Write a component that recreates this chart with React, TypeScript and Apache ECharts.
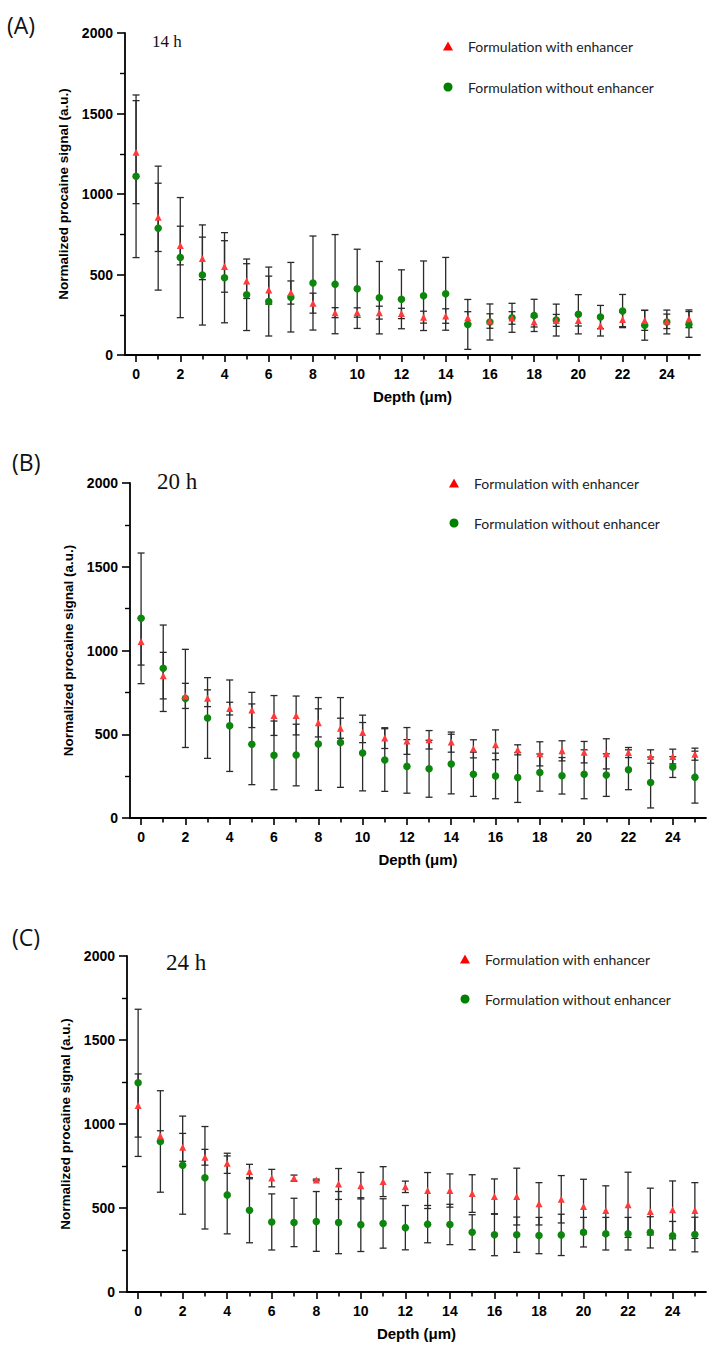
import React, { useEffect, useRef } from "react";
import * as echarts from "echarts";

// Depth positions (µm)
const DEPTH = [0, 1, 2, 3, 4, 5, 6, 7, 8, 9, 10, 11, 12, 13, 14, 15, 16, 17, 18, 19, 20, 21, 22, 23, 24, 25];
const X_TICKS_MAJOR = [0, 2, 4, 6, 8, 10, 12, 14, 16, 18, 20, 22, 24];
const X_TICKS_MINOR = [1, 3, 5, 7, 9, 11, 13, 15, 17, 19, 21, 23, 25];

// Panel A: 14 h
const A_WITH_MEAN = [1260, 855, 680, 600, 550, 459, 403, 388, 322, 263, 264, 263, 258, 235, 242, 232, 211, 230, 205, 215, 215, 180, 221, 215, 209, 225];
const A_WITH_SD = [320, 212, 120, 132, 160, 108, 87, 72, 62, 31, 29, 40, 32, 37, 45, 37, 45, 39, 31, 37, 35, 62, 45, 62, 45, 55];
const A_WITHOUT_MEAN = [1110, 788, 605, 497, 480, 374, 332, 359, 447, 440, 411, 356, 346, 368, 380, 190, 205, 231, 246, 217, 253, 236, 273, 185, 205, 190];
const A_WITHOUT_SD = [505, 385, 373, 311, 280, 222, 214, 216, 292, 308, 246, 225, 183, 216, 226, 155, 112, 90, 100, 99, 122, 72, 103, 93, 74, 80];

// Panel B: 20 h
const B_WITH_MEAN = [1053, 850, 729, 715, 653, 645, 612, 612, 568, 536, 510, 477, 460, 467, 453, 413, 437, 407, 383, 401, 393, 383, 391, 367, 367, 381];
const B_WITH_SD = [140, 139, 75, 50, 38, 105, 119, 116, 84, 60, 60, 62, 80, 55, 60, 54, 89, 30, 72, 60, 64, 90, 30, 40, 44, 36];
const B_WITHOUT_MEAN = [1192, 894, 714, 597, 551, 440, 374, 376, 442, 451, 388, 346, 308, 294, 322, 261, 251, 242, 271, 252, 261, 256, 288, 212, 304, 244];
const B_WITHOUT_SD = [390, 258, 293, 241, 273, 241, 205, 184, 277, 268, 226, 187, 160, 170, 178, 132, 136, 149, 111, 109, 146, 127, 119, 152, 62, 155];

// Panel C: 24 h
const C_WITH_MEAN = [1110, 929, 861, 802, 766, 717, 678, 678, 667, 643, 633, 657, 626, 604, 604, 586, 568, 568, 525, 552, 509, 485, 519, 479, 489, 485];
const C_WITH_SD = [188, 31, 83, 47, 60, 43, 52, 18, 5, 92, 79, 89, 34, 107, 99, 112, 105, 169, 126, 141, 162, 147, 194, 139, 172, 166];
const C_WITHOUT_MEAN = [1245, 896, 755, 680, 578, 487, 417, 414, 420, 413, 401, 408, 383, 404, 402, 356, 341, 341, 336, 340, 356, 347, 347, 355, 335, 342];
const C_WITHOUT_SD = [438, 302, 292, 305, 232, 194, 167, 144, 178, 185, 160, 147, 132, 111, 120, 104, 125, 105, 108, 123, 88, 97, 97, 93, 85, 103];

const Y_TICKS = [0, 500, 1000, 1500, 2000];

const NAME_WITH = "Formulation with enhancer";
const NAME_WITHOUT = "Formulation without enhancer";
const PANEL_LABELS = ["(A)", "(B)", "(C)"];
const TIME_LABELS = ["14 h", "20 h", "24 h"];

const RED = "#ff3a3a";
const GREEN = "#0c860c";
const AXIS_FONT = "'Liberation Sans', Arial, sans-serif";

const PANELS = [
  { withMean: A_WITH_MEAN, withSd: A_WITH_SD, withoutMean: A_WITHOUT_MEAN, withoutSd: A_WITHOUT_SD,
    grid: { left: 125, top: 33, width: 575, height: 322 }, yGap: 45,
    label: { x: 7, y: 28 }, time: { x: 152, y: 43, size: 17 }, legend: { cx: 448, top: 39, gap: 27 } },
  { withMean: B_WITH_MEAN, withSd: B_WITH_SD, withoutMean: B_WITHOUT_MEAN, withoutSd: B_WITHOUT_SD,
    grid: { left: 130, top: 483, width: 576, height: 335 }, yGap: 44,
    label: { x: 12, y: 465 }, time: { x: 157, y: 484, size: 23 }, legend: { cx: 454, top: 476, gap: 26 } },
  { withMean: C_WITH_MEAN, withSd: C_WITH_SD, withoutMean: C_WITHOUT_MEAN, withoutSd: C_WITHOUT_SD,
    grid: { left: 127, top: 956, width: 579, height: 336 }, yGap: 40,
    label: { x: 12, y: 940 }, time: { x: 166, y: 965, size: 23 }, legend: { cx: 465, top: 952, gap: 26 } },
];

function errorBarItem(params: any, api: any) {
  const x = api.value(0);
  const lo = api.coord([x, api.value(1)]);
  const hi = api.coord([x, api.value(2)]);
  const w = 3.5;
  const style = { stroke: "#2a2a2a", lineWidth: 1.3 };
  return {
    type: "group",
    children: [
      { type: "line", shape: { x1: lo[0], y1: lo[1], x2: hi[0], y2: hi[1] }, style },
      { type: "line", shape: { x1: lo[0] - w, y1: lo[1], x2: lo[0] + w, y2: lo[1] }, style },
      { type: "line", shape: { x1: hi[0] - w, y1: hi[1], x2: hi[0] + w, y2: hi[1] }, style },
    ],
  };
}

export default function App() {
  const ref = useRef<HTMLDivElement>(null);

  useEffect(() => {
    if (!ref.current) return;
    const chart = echarts.init(ref.current, null, { renderer: "svg" });

    const grids: any[] = [];
    const xAxes: any[] = [];
    const yAxes: any[] = [];
    const series: any[] = [];
    const legends: any[] = [];
    const graphics: any[] = [];

    PANELS.forEach((p, i) => {
      grids.push({ ...p.grid, containLabel: false });
      // main x axis (even ticks with labels)
      xAxes.push({
        type: "value", gridIndex: i, min: -0.5, max: 25.5,
        name: "Depth (μm)", nameLocation: "middle", nameGap: 34,
        nameTextStyle: { fontFamily: AXIS_FONT, fontWeight: "bold", fontSize: 15, color: "#000" },
        axisLine: { show: true, onZero: false, lineStyle: { color: "#000", width: 1.8 } },
        axisTick: { show: true, customValues: X_TICKS_MAJOR, length: 7, lineStyle: { color: "#000", width: 1.6 } },
        axisLabel: { show: true, customValues: X_TICKS_MAJOR, margin: 12, fontFamily: AXIS_FONT, fontWeight: "bold", fontSize: 14, color: "#000" },
        splitLine: { show: false },
      });
      // helper x axis for the shorter odd ticks
      xAxes.push({
        type: "value", gridIndex: i, min: -0.5, max: 25.5, position: "bottom",
        axisLine: { show: false, onZero: false },
        axisTick: { show: true, customValues: X_TICKS_MINOR, length: 4.5, lineStyle: { color: "#000", width: 1.6 } },
        axisLabel: { show: false },
        splitLine: { show: false },
      });
      yAxes.push({
        type: "value", gridIndex: i, min: 0, max: 2000, interval: 500,
        name: "Normalized procaine signal (a.u.)", nameLocation: "middle", nameGap: p.yGap,
        nameTextStyle: { fontFamily: AXIS_FONT, fontWeight: "bold", fontSize: 13.5, color: "#000" },
        axisLine: { show: true, onZero: false, lineStyle: { color: "#000", width: 1.8 } },
        axisTick: { show: true, length: 8, lineStyle: { color: "#000", width: 1.6 } },
        minorTick: { show: true, splitNumber: 2, length: 5, lineStyle: { color: "#000", width: 1.4 } },
        axisLabel: { margin: 12, fontFamily: AXIS_FONT, fontWeight: "bold", fontSize: 14, color: "#000",
          customValues: Y_TICKS, formatter: (v: number) => String(v) },
        splitLine: { show: false },
        minorSplitLine: { show: false },
      });

      const xi = i * 2;
      series.push({
        type: "custom", name: "sd-with-" + i, xAxisIndex: xi, yAxisIndex: i, z: 2,
        renderItem: errorBarItem, clip: false,
        data: DEPTH.map((d, k) => [d, p.withMean[k] - p.withSd[k], p.withMean[k] + p.withSd[k]]),
      });
      series.push({
        type: "custom", name: "sd-without-" + i, xAxisIndex: xi, yAxisIndex: i, z: 2,
        renderItem: errorBarItem, clip: false,
        data: DEPTH.map((d, k) => [d, p.withoutMean[k] - p.withoutSd[k], p.withoutMean[k] + p.withoutSd[k]]),
      });
      series.push({
        type: "scatter", name: NAME_WITHOUT, xAxisIndex: xi, yAxisIndex: i, z: 3,
        symbol: "circle", symbolSize: 7.5, itemStyle: { color: GREEN, opacity: 1 },
        data: DEPTH.map((d, k) => [d, p.withoutMean[k]]),
      });
      series.push({
        type: "scatter", name: NAME_WITH, xAxisIndex: xi, yAxisIndex: i, z: 4,
        symbol: "triangle", symbolSize: 7, itemStyle: { color: RED, opacity: 1 },
        data: DEPTH.map((d, k) => [d, p.withMean[k]]),
      });

      legends.push({
        orient: "vertical", left: p.legend.cx - 5, top: p.legend.top, itemGap: p.legend.gap,
        itemWidth: 10, itemHeight: 9, selectedMode: false, padding: 0,
        textStyle: { fontFamily: "Lato, 'Open Sans', sans-serif", fontSize: 14, color: "#222", padding: [0, 0, 0, 10] },
        data: [
          { name: NAME_WITH, icon: "triangle", itemStyle: { color: "#ff0000" } },
          { name: NAME_WITHOUT, icon: "circle", itemStyle: { color: "#008000" } },
        ],
      });

      graphics.push({
        type: "text", left: p.label.x, top: p.label.y - 15,
        style: { text: PANEL_LABELS[i], font: "23px 'Open Sans', 'Noto Sans', sans-serif", fill: "#111" },
      });
      graphics.push({
        type: "text", left: p.time.x, top: p.time.y - p.time.size * 0.6,
        style: { text: TIME_LABELS[i], font: `${p.time.size}px 'Liberation Serif', 'DejaVu Serif', serif`, fill: "#111" },
      });
    });

    chart.setOption({
      animation: false,
      backgroundColor: "#ffffff",
      grid: grids,
      xAxis: xAxes,
      yAxis: yAxes,
      legend: legends,
      graphic: graphics,
      series,
    });

    return () => chart.dispose();
  }, []);

  return (
    <div
      ref={ref}
      style={{ position: "absolute", left: 0, top: 0, width: 722, height: 1358, background: "#fff" }}
    />
  );
}
